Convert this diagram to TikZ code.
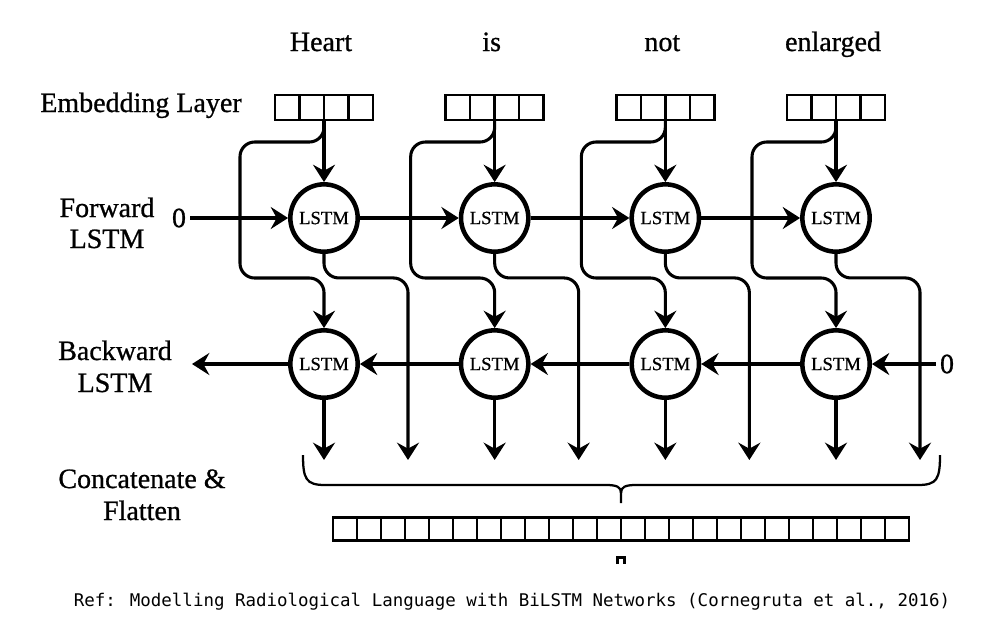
\documentclass[tikz,border=0pt]{standalone}
\usepackage{fontspec}
\setmainfont{Liberation Serif}[FakeBold=0.8]
\newfontfamily\capfont{DejaVu Sans Mono}
\usetikzlibrary{arrows.meta,calc}
\tikzset{
  conn/.style={line width=2.3pt, -{Stealth[length=13pt,width=16.5pt,inset=4.5pt]}},
  roundpath/.style={rounded corners=11pt},
  lstm/.style={circle, draw, line width=3.4pt, minimum size=50.5pt, inner sep=0pt,
               font=\fontsize{14}{15}\selectfont},
  cell/.style={draw, line width=1.9pt, inner sep=0pt, outer sep=0pt},
  divider/.style={line width=1.9pt},
  lbl/.style={font=\fontsize{21}{24}\selectfont, anchor=base, inner sep=0pt},
  zero/.style={font=\fontsize{21}{24}\selectfont, inner sep=3pt},
  bracestyle/.style={line width=1.7pt},
  caption/.style={font=\capfont\fontsize{13.1}{15}\selectfont, anchor=base, inner sep=0pt},
}
\begin{document}
\begin{tikzpicture}[x=0.75pt,y=-0.75pt]
\useasboundingbox (0,0) rectangle (987,626);

% row labels
\node[lbl] (emb) at (141,112) {Embedding Layer};
\node[lbl] (fw1) at (107,217) {Forward};
\node[lbl] (fw2) at (107,248) {LSTM};
\node[lbl] (bw1) at (115,360) {Backward};
\node[lbl] (bw2) at (115,392) {LSTM};
\node[lbl] (cc1) at (142,488) {Concatenate \&};
\node[lbl] (cc2) at (142,520) {Flatten};

% columns
\foreach \i/\w in {1/Heart,2/is,3/not,4/enlarged}{
  \pgfmathsetmacro\x{324+170.67*(\i-1)}
  \node[lbl] (w\i) at (\x-3,51) {\w};
  \node[cell, minimum width=73.5pt, minimum height=18.75pt] (e\i) at (\x,107.5) {};
  \foreach \k in {0.25,0.5,0.75}
    \draw[divider] ($(e\i.south west)!\k!(e\i.south east)$) -- ($(e\i.north west)!\k!(e\i.north east)$);
  \node[lstm] (f\i) at (\x,218) {LSTM};
  \node[lstm] (b\i) at (\x,364) {LSTM};
  \coordinate (fo\i) at (\x+84,460);
  \coordinate (bo\i) at (\x,460);
}

% zero inputs and free end
\node[zero] (zf) at (179,218) {0};
\node[zero] (zb) at (947,364) {0};
\coordinate (bl) at (192,364);

% connectors per column
\foreach \i in {1,2,3,4}{
  \draw[conn, roundpath] (e\i.south) -- ++(0,22) -- ++(-84,0) -- ++(0,136) -- ++(84,0) -- (b\i.north);
  \draw[conn] (e\i) -- (f\i);
  \draw[conn, roundpath] (f\i.south) -- ++(0,24) -- ++(84,0) -- (fo\i);
  \draw[conn] (b\i) -- (bo\i);
}

% forward chain
\draw[conn] (zf) -- (f1);
\draw[conn] (f1) -- (f2);
\draw[conn] (f2) -- (f3);
\draw[conn] (f3) -- (f4);

% backward chain
\draw[conn] (zb) -- (b4);
\draw[conn] (b4) -- (b3);
\draw[conn] (b3) -- (b2);
\draw[conn] (b2) -- (b1);
\draw[conn] (b1) -- (bl);

% brace
\draw[bracestyle] (303,455) .. controls (303,479) and (306,485) .. (325,485) -- (606,485)
  .. controls (617,485) and (621,487) .. (621,493) -- (621,503);
\draw[bracestyle] (940,455) .. controls (940,479) and (937,485) .. (918,485) -- (636,485)
  .. controls (625,485) and (621,487) .. (621,493);

% flattened vector
\node[cell, minimum width=432pt, minimum height=17.25pt] (cat) at (621,529) {};
\foreach \k in {1,...,23}
  \draw[divider] ($(cat.south west)!{\k/24}!(cat.south east)$) -- ($(cat.north west)!{\k/24}!(cat.north east)$);

% small mark below
\draw[line width=2pt] (617.5,564) -- (617.5,557.5) -- (624.5,557.5) -- (624.5,564);

% caption
\node[caption] (cap) at (512,606) {Ref: Modelling Radiological Language with BiLSTM Networks (Cornegruta et al., 2016)};
\end{tikzpicture}
\end{document}
